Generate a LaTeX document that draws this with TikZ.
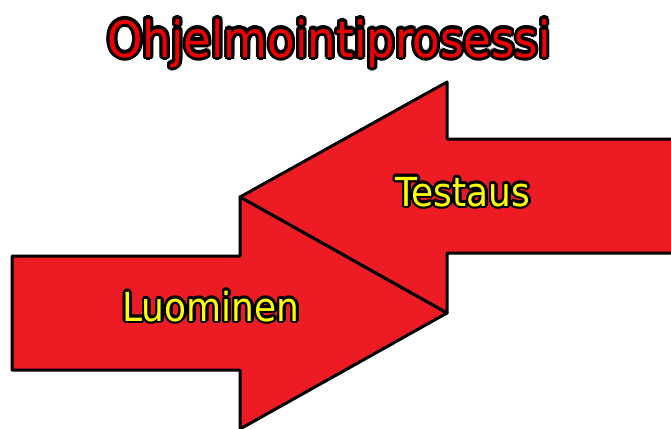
\documentclass[tikz,border=0pt]{standalone}
\usepackage{fontspec}
\setmainfont{DejaVu Sans}[FakeStretch=0.9]
\usetikzlibrary{calc}
\definecolor{arrowred}{HTML}{ED1C24}
\definecolor{titlered}{HTML}{F00000}
\definecolor{labelyellow}{HTML}{FFFF00}
\newcommand{\outlinetext}[3]{%
  \leavevmode
  \foreach \a in {0,22.5,...,337.5}{%
    \pgfmathsetlengthmacro\dx{#2*cos(\a)}%
    \pgfmathsetlengthmacro\dy{#2*sin(\a)}%
    \rlap{\hspace*{\dx}\raisebox{\dy}{\textcolor{black}{#3}}}}%
  \textcolor{#1}{#3}}
\tikzset{
  bigarrow/.style={fill=arrowred, draw=black, line width=3pt, line join=round},
  titletext/.style={font=\fontsize{50}{52}\selectfont, anchor=base, inner sep=0pt},
  labeltext/.style={font=\fontsize{40}{42}\selectfont, anchor=base, inner sep=0pt},
}
\begin{document}
\begin{tikzpicture}[x=1pt, y=-1pt]
\useasboundingbox (0,0) rectangle (671,428);
% Testaus arrow (pointing left)
\draw[bigarrow] (690,139) -- (447,139) -- (447,82) -- (240,197) -- (447,313) -- (447,253) -- (690,253);
% Luominen arrow (pointing right)
\draw[bigarrow] (12,256) -- (240,256) -- (240,197) -- (447,313) -- (240,429) -- (240,370) -- (12,370) -- cycle;
% outlined texts
\node[titletext] (title) at (329,57) {\outlinetext{titlered}{3pt}{Ohjelmointiprosessi}};
\node[labeltext] (testaus) at (463,206) {\outlinetext{labelyellow}{2.6pt}{Testaus}};
\node[labeltext] (luominen) at (211,321) {\outlinetext{labelyellow}{2.6pt}{Luominen}};
\end{tikzpicture}
\end{document}
